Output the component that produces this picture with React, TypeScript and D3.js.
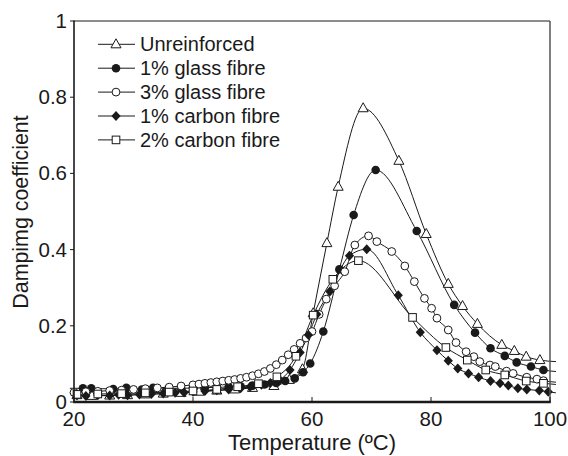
import React from "react";
import * as d3 from "d3";

const unreinforcedT = [20.5,23,26,29,32,35,38,41,44,47,50,53.6,56.2,58.4,60.2,62.5,64.4,68.6,74.6,79.2,82.9,85.3,87.8,91.9,94,96,98.3];
const unreinforcedV = [0.018,0.016,0.017,0.018,0.02,0.022,0.024,0.027,0.03,0.033,0.037,0.042,0.058,0.086,0.233,0.417,0.565,0.771,0.633,0.441,0.31,0.252,0.205,0.15,0.134,0.119,0.11];

const glass1T = [21.5,22.9,26.6,28.8,31.4,33.3,35.9,38,40,42,44,46,48,50,52,54,55.5,57.1,58.5,59.7,61.9,64.6,67.0,70.7,77.6,83.9,87.4,90.0,92.4,94.4,96.8,98.9];
const glass1V = [0.036,0.036,0.034,0.037,0.033,0.037,0.036,0.036,0.037,0.038,0.038,0.04,0.041,0.043,0.046,0.05,0.055,0.062,0.078,0.101,0.185,0.348,0.491,0.609,0.449,0.255,0.182,0.141,0.121,0.104,0.093,0.084];

const glass3T = [20,22,24,26,28,30,32,34,36,38,40,41,42,43,44,45,46,47,48,49,50,51,52,53,54,55,56,57,58,59,60,61.2,62.4,63.8,65.5,67.2,69.5,70.9,73.4,75.6,77.2,78.9,80.1,81.0,82.9,84.2,85.9,87.2,88.2,89.9,90.8,92.7,93.8,96.1,97.8,98.9];
const glass3V = [0.025,0.027,0.028,0.03,0.031,0.033,0.035,0.037,0.039,0.042,0.045,0.047,0.049,0.051,0.053,0.055,0.057,0.059,0.062,0.065,0.069,0.074,0.08,0.088,0.098,0.11,0.124,0.138,0.154,0.168,0.185,0.23,0.27,0.305,0.342,0.412,0.436,0.421,0.395,0.357,0.316,0.272,0.246,0.22,0.189,0.156,0.132,0.119,0.106,0.097,0.093,0.081,0.075,0.065,0.06,0.056];

const carbon1T = [20.5,22,24,26,27.5,29,31,33,35,37,38.5,40,42,44,46,48,49.6,51.5,53,54.6,56.3,58,59.4,60.8,63.0,66.3,69.2,74.5,78.2,81.0,82.9,84.5,86.3,88.0,90.0,91.6,93.0,94.6,96.1,98.2,99.7];
const carbon1V = [0.017,0.016,0.018,0.017,0.019,0.018,0.02,0.021,0.022,0.024,0.025,0.027,0.029,0.031,0.033,0.036,0.04,0.045,0.05,0.058,0.084,0.13,0.176,0.23,0.29,0.384,0.401,0.28,0.183,0.136,0.108,0.088,0.075,0.065,0.055,0.049,0.043,0.036,0.033,0.03,0.027];

const carbon2T = [20.5,24,28,32,36,40,44,47.5,51,54.1,57.3,60.2,63.5,67.8,76.9,82.5,86.1,89.2,92.4,96.0,98.9];
const carbon2V = [0.02,0.021,0.022,0.024,0.026,0.029,0.033,0.04,0.048,0.066,0.12,0.228,0.322,0.371,0.222,0.143,0.11,0.084,0.071,0.055,0.049];

// line extensions beyond the first / last markers (no markers drawn)
const leadT = 19.3;
const leadV = [null, 0.036, 0.024, null, null];
const tailT = 101;
const tailV = [0.106, 0.08, 0.052, 0.024, 0.046];

const seriesNames = ["Unreinforced", "1% glass fibre", "3% glass fibre", "1% carbon fibre", "2% carbon fibre"];
const seriesMarkers = ["triangle", "dot", "circle", "diamond", "square"];
const seriesT = [unreinforcedT, glass1T, glass3T, carbon1T, carbon2T];
const seriesV = [unreinforcedV, glass1V, glass3V, carbon1V, carbon2V];

const xTicks = [20, 40, 60, 80, 100];
const yTicks = [0, 0.2, 0.4, 0.6, 0.8, 1];
const yTickLabels = ["0", "0.2", "0.4", "0.6", "0.8", "1"];

const W = 568, H = 456;
const FONT = "'Liberation Sans', Arial, sans-serif";
const INK = "#1a1a1a";

function Marker({ kind, x, y }: { kind: string; x: number; y: number }) {
  const sw = 1;
  if (kind === "triangle")
    return <path d={`M${x},${y - 5.5}L${x + 5},${y + 3.5}L${x - 5},${y + 3.5}Z`} fill="#fff" stroke={INK} strokeWidth={sw} />;
  if (kind === "dot") return <circle cx={x} cy={y} r={4.3} fill={INK} />;
  if (kind === "circle") return <circle cx={x} cy={y} r={3.9} fill="#fff" stroke={INK} strokeWidth={sw} />;
  if (kind === "diamond")
    return <path d={`M${x},${y - 5}L${x + 4.6},${y}L${x},${y + 5}L${x - 4.6},${y}Z`} fill={INK} />;
  return <rect x={x - 3.8} y={y - 3.8} width={7.6} height={7.6} fill="#fff" stroke={INK} strokeWidth={sw} />;
}

export default function App() {
  const x = d3.scaleLinear().domain([20, 100]).range([74, 550]);
  const y = d3.scaleLinear().domain([0, 1]).range([402, 21]);
  const line = d3
    .line<[number, number]>()
    .x((d) => x(d[0]))
    .y((d) => y(d[1]))
    .curve(d3.curveMonotoneX);

  const legendY = (i: number) => 44.3 + i * 23.9;

  return (
    <svg width={W} height={H} style={{ position: "absolute", left: 0, top: 0, background: "#fff" }} fontFamily={FONT}>
      <rect width={W} height={H} fill="#fff" />
      {/* lines */}
      {seriesT.map((ts, si) => {
        const pts: [number, number][] = ts.map((t, i) => [t, seriesV[si][i]]);
        const lv = leadV[si];
        if (lv !== null) pts.unshift([leadT, lv]);
        pts.push([tailT, tailV[si]]);
        return <path key={"l" + si} d={line(pts) || ""} fill="none" stroke={INK} strokeWidth={1} />;
      })}
      {/* markers */}
      {seriesT.map((ts, si) =>
        ts.map((t, i) => <Marker key={`m${si}-${i}`} kind={seriesMarkers[si]} x={x(t)} y={y(seriesV[si][i])} />)
      )}
      {/* frame */}
      <line x1={x(20)} x2={x(100)} y1={y(1)} y2={y(1)} stroke={INK} strokeWidth={1.2} />
      <line x1={x(100)} x2={x(100)} y1={y(1)} y2={y(0)} stroke="#555" strokeWidth={1.5} />
      <line x1={x(20)} x2={x(20)} y1={y(1) - 0.6} y2={y(0)} stroke={INK} strokeWidth={1.6} />
      <line x1={x(20) - 0.8} x2={x(100) + 0.8} y1={y(0)} y2={y(0)} stroke={INK} strokeWidth={2.4} />
      {/* x ticks */}
      {xTicks.map((t) => (
        <g key={"xt" + t}>
          <line x1={x(t)} x2={x(t)} y1={y(0)} y2={y(0) - 5} stroke={INK} strokeWidth={1} />
          <text x={x(t)} y={426} textAnchor="middle" fontSize={20.5} fill={INK}>{t}</text>
        </g>
      ))}
      {/* y ticks */}
      {yTicks.map((v, i) => (
        <g key={"yt" + v}>
          <line x1={x(20)} x2={x(20) - 4} y1={y(v)} y2={y(v)} stroke={INK} strokeWidth={1} />
          <text x={67} y={y(v) + 7} textAnchor="end" fontSize={20.5} fill={INK}>{yTickLabels[i]}</text>
        </g>
      ))}
      {/* axis titles */}
      <text x={312} y={450} textAnchor="middle" fontSize={22} fill={INK}>Temperature (ºC)</text>
      <text transform={`translate(28,212) rotate(-90)`} textAnchor="middle" fontSize={21.4} fill={INK}>Dampimg coefficient</text>
      {/* legend */}
      {seriesNames.map((n, i) => (
        <g key={"lg" + i}>
          <line x1={98} x2={135} y1={legendY(i)} y2={legendY(i)} stroke={INK} strokeWidth={1} />
          <Marker kind={seriesMarkers[i]} x={116} y={legendY(i)} />
          <text x={140} y={legendY(i) + 7} fontSize={20} fill={INK}>{n}</text>
        </g>
      ))}
    </svg>
  );
}
